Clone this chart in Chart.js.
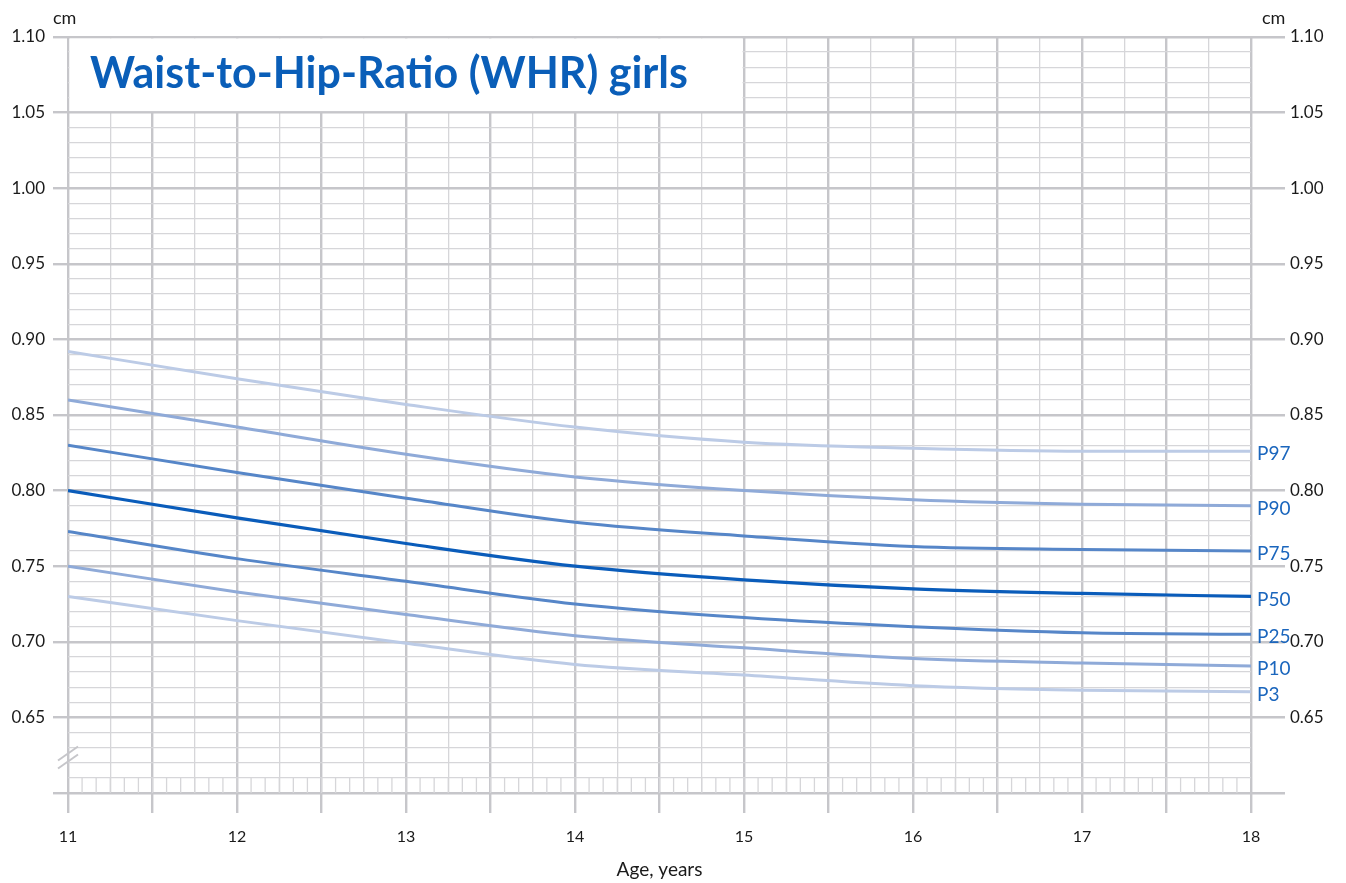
<!DOCTYPE html>
<html>
<head>
<meta charset="utf-8">
<script src="https://cdn.jsdelivr.net/npm/chart.js@4"></script>
<style>
  html, body { margin: 0; padding: 0; background: #fff; }
</style>
</head>
<body>
<canvas id="whrChart" width="1346" height="883"></canvas>
<script>
// age in years
const ages = [11, 12, 13, 14, 15, 16, 17, 18];

// waist-to-hip ratio percentiles
const p97 = [0.892, 0.874, 0.857, 0.842, 0.832, 0.828, 0.826, 0.826];
const p90 = [0.860, 0.842, 0.824, 0.809, 0.800, 0.794, 0.791, 0.790];
const p75 = [0.830, 0.812, 0.795, 0.779, 0.770, 0.763, 0.761, 0.760];
const p50 = [0.800, 0.782, 0.765, 0.750, 0.741, 0.735, 0.732, 0.730];
const p25 = [0.773, 0.755, 0.740, 0.725, 0.716, 0.710, 0.706, 0.705];
const p10 = [0.750, 0.733, 0.718, 0.704, 0.696, 0.689, 0.686, 0.684];
const p3 = [0.730, 0.714, 0.699, 0.685, 0.678, 0.671, 0.668, 0.667];

const yMin = 0.60;
const yMax = 1.10;
const yLabelFrom = 0.65;

const titleText = 'Waist-to-Hip-Ratio (WHR) girls';

const MAJOR = '#c6c6ca';
const MINOR = '#d6d6d9';
const NONE = 'rgba(0,0,0,0)';
const FONT = 'Lato';

const isStep = (v, step) => Math.abs(v / step - Math.round(v / step)) < 1e-6;

const yTickLabel = v => (isStep(v, 0.05) && v >= yLabelFrom - 1e-6) ? v.toFixed(2) : '';

const chartExtras = {
    id: 'chartExtras',
    beforeDatasetsDraw(chart) {
        const { ctx, scales: { x, y } } = chart;
        ctx.save();

        // white box behind the title
        const bx0 = x.getPixelForValue(11) + 1.5;
        const bx1 = x.getPixelForValue(15) - 1.5;
        const by0 = y.getPixelForValue(1.10) + 1.5;
        const by1 = y.getPixelForValue(1.05) - 1.5;
        ctx.fillStyle = '#fff';
        ctx.fillRect(bx0, by0, bx1 - bx0, by1 - by0);

        ctx.fillStyle = '#0a5eb8';
        ctx.font = 'bold 43px ' + FONT;
        ctx.textBaseline = 'alphabetic';
        ctx.textAlign = 'left';
        ctx.fillText(titleText, x.getPixelForValue(11) + 22, 88);

        // monthly ticks in the bottom band
        const yb0 = y.getPixelForValue(0.61);
        const yb1 = y.getPixelForValue(0.60);
        ctx.strokeStyle = MINOR;
        ctx.lineWidth = 1.3;
        for (let m = 1; m < 84; m++) {
            const px = x.getPixelForValue(11 + m / 12);
            ctx.beginPath();
            ctx.moveTo(px, yb0);
            ctx.lineTo(px, yb1);
            ctx.stroke();
        }

        // axis break mark
        const bx = x.getPixelForValue(11);
        const by = y.getPixelForValue(0.6235);
        ctx.strokeStyle = MAJOR;
        ctx.lineWidth = 2;
        [-4, 4].forEach(off => {
            ctx.beginPath();
            ctx.moveTo(bx - 10, by + off + 7);
            ctx.lineTo(bx + 10, by + off - 7);
            ctx.stroke();
        });
        ctx.restore();
    },
    afterDatasetsDraw(chart) {
        const { ctx } = chart;
        ctx.save();
        ctx.font = '19px ' + FONT;
        ctx.fillStyle = '#1b66bd';
        ctx.textAlign = 'left';
        ctx.textBaseline = 'middle';
        chart.data.datasets.forEach((ds, i) => {
            const pts = chart.getDatasetMeta(i).data;
            const last = pts[pts.length - 1];
            ctx.fillText(ds.label, last.x + 6, last.y + 3);
        });

        ctx.font = '18px ' + FONT;
        ctx.fillStyle = '#1a1a1a';
        ctx.fillText('cm', 53, 18);
        ctx.fillText('cm', 1262, 18);
        ctx.restore();
    }
};

const lineSet = (label, data, color, width) => ({
    label: label,
    data: data,
    borderColor: color,
    borderWidth: width,
    pointRadius: 0,
    fill: false,
    cubicInterpolationMode: 'monotone'
});

const yGrid = {
    color: c => isStep(c.tick.value, 0.05) ? MAJOR : MINOR,
    lineWidth: c => isStep(c.tick.value, 0.05) ? 2.4 : 1.3,
    tickColor: c => isStep(c.tick.value, 0.05) ? MAJOR : NONE,
    tickWidth: 2.4
};

new Chart(document.getElementById('whrChart'), {
    type: 'line',
    data: {
        labels: ages,
        datasets: [
            lineSet('P97', p97, '#bccbe6', 3),
            lineSet('P90', p90, '#8faad8', 3),
            lineSet('P75', p75, '#5686c8', 3),
            lineSet('P50', p50, '#0a5cba', 3.2),
            lineSet('P25', p25, '#5686c8', 3),
            lineSet('P10', p10, '#8faad8', 3),
            lineSet('P3', p3, '#bccbe6', 3)
        ]
    },
    options: {
        responsive: false,
        animation: false,
        layout: { padding: { top: 37, left: 0, right: 0, bottom: 0 } },
        plugins: {
            legend: { display: false },
            tooltip: { enabled: false }
        },
        scales: {
            x: {
                type: 'linear',
                position: 'bottom',
                min: 11,
                max: 18,
                afterFit: s => { s.height = 90; },
                border: { display: false },
                grid: {
                    color: c => isStep(c.tick.value, 0.5) ? MAJOR : MINOR,
                    lineWidth: c => isStep(c.tick.value, 0.5) ? 2.4 : 1.3,
                    tickColor: c => isStep(c.tick.value, 0.5) ? MAJOR : NONE,
                    tickWidth: 2.4,
                    tickLength: 20
                },
                ticks: {
                    stepSize: 0.25,
                    autoSkip: false,
                    maxRotation: 0,
                    maxTicksLimit: 1000,
                    padding: 14,
                    color: '#1a1a1a',
                    font: { family: FONT, size: 16 },
                    callback: v => Number.isInteger(v) ? String(v) : ''
                },
                title: {
                    display: true,
                    text: 'Age, years',
                    color: '#1a1a1a',
                    font: { family: FONT, size: 19 },
                    padding: { top: 0, bottom: 2 }
                }
            },
            y: {
                type: 'linear',
                position: 'left',
                min: yMin,
                max: yMax,
                afterFit: s => { s.width = 68; },
                border: { display: false },
                grid: Object.assign({ tickLength: 15 }, yGrid),
                ticks: {
                    stepSize: 0.01,
                    autoSkip: false,
                    maxTicksLimit: 1000,
                    padding: 8,
                    color: '#1a1a1a',
                    font: { family: FONT, size: 17 },
                    callback: yTickLabel
                }
            },
            y2: {
                type: 'linear',
                position: 'right',
                min: yMin,
                max: yMax,
                afterFit: s => { s.width = 95; },
                border: { display: false },
                grid: Object.assign({ tickLength: 34, drawOnChartArea: false }, yGrid),
                ticks: {
                    stepSize: 0.01,
                    autoSkip: false,
                    maxTicksLimit: 1000,
                    padding: 5,
                    color: '#1a1a1a',
                    font: { family: FONT, size: 17 },
                    callback: yTickLabel
                }
            }
        }
    },
    plugins: [chartExtras]
});
</script>
</body>
</html>
